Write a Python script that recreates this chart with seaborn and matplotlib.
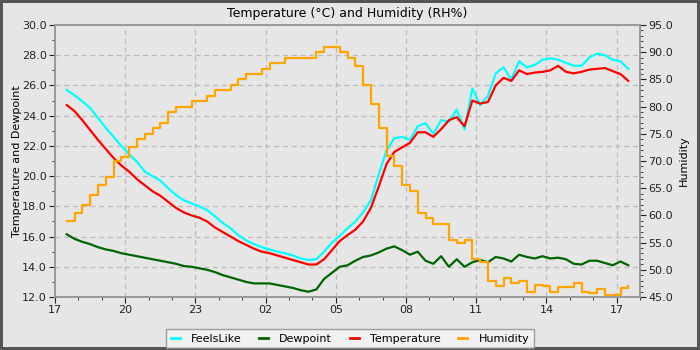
import matplotlib
matplotlib.use('Agg')
import matplotlib.pyplot as plt
import matplotlib.dates as mdates
from matplotlib.ticker import MultipleLocator, FormatStrFormatter
import seaborn as sns
import pandas as pd

# readings every 20 minutes, 17:30 -> 17:30 next day
start_time = '2023-06-10 17:30'
n_points = 73

feels_like = [25.7, 25.35, 24.95, 24.5, 23.85, 23.2, 22.6, 22.0, 21.45, 20.95,
              20.3, 20.0, 19.7, 19.2, 18.75, 18.4, 18.2, 18.0, 17.75, 17.35,
              16.9, 16.55, 16.1, 15.75, 15.5, 15.3, 15.15, 15.0, 14.9, 14.75,
              14.55, 14.45, 14.5, 15.0, 15.6, 16.05, 16.55, 17.0, 17.6, 18.4,
              20.1, 21.7, 22.5, 22.6, 22.4, 23.3, 23.5, 22.8, 23.7, 23.6,
              24.4, 23.1, 25.8, 24.7, 25.3, 26.8, 27.2, 26.4, 27.6, 27.2,
              27.35, 27.7, 27.8, 27.7, 27.5, 27.3, 27.3, 27.85, 28.1, 28.0,
              27.7, 27.6, 27.1]

dewpoint = [16.15, 15.85, 15.65, 15.5, 15.3, 15.15, 15.05, 14.9, 14.8, 14.7,
            14.6, 14.5, 14.4, 14.3, 14.2, 14.05, 14.0, 13.9, 13.8, 13.65,
            13.45, 13.3, 13.15, 13.0, 12.9, 12.9, 12.9, 12.8, 12.7, 12.6,
            12.45, 12.35, 12.5, 13.2, 13.6, 14.0, 14.1, 14.4, 14.65, 14.75,
            14.95, 15.2, 15.35, 15.1, 14.8, 15.0, 14.4, 14.2, 14.7, 14.0,
            14.5, 14.0, 14.3, 14.45, 14.3, 14.65, 14.55, 14.35, 14.8, 14.65,
            14.55, 14.7, 14.55, 14.6, 14.5, 14.2, 14.15, 14.4, 14.4, 14.25,
            14.1, 14.35, 14.1]

temperature = [24.7, 24.3, 23.7, 23.05, 22.4, 21.8, 21.2, 20.7, 20.3, 19.8,
               19.4, 19.0, 18.7, 18.3, 17.9, 17.6, 17.4, 17.25, 17.0, 16.6,
               16.3, 16.0, 15.7, 15.45, 15.2, 15.0, 14.9, 14.75, 14.6, 14.45,
               14.3, 14.15, 14.15, 14.5, 15.1, 15.7, 16.1, 16.45, 17.0, 17.9,
               19.3, 20.8, 21.6, 21.9, 22.2, 22.9, 22.9, 22.6, 23.1, 23.7,
               23.9, 23.3, 25.0, 24.8, 24.9, 26.0, 26.5, 26.3, 27.0, 26.75,
               26.85, 26.9, 27.0, 27.3, 26.9, 26.8, 26.9, 27.05, 27.1, 27.15,
               26.95, 26.75, 26.3]

humidity = [59.0, 60.5, 62.0, 63.7, 65.5, 67.0, 70.0, 70.8, 72.5, 74.0,
            75.0, 76.0, 77.0, 79.0, 80.0, 80.0, 81.0, 81.0, 82.0, 83.0,
            83.0, 84.0, 85.0, 86.0, 86.0, 87.0, 88.0, 88.0, 89.0, 89.0,
            89.0, 89.0, 90.0, 91.0, 91.0, 90.0, 89.0, 87.5, 84.0, 80.5,
            76.0, 71.0, 69.0, 65.5, 64.5, 60.5, 59.5, 58.5, 58.5, 55.5,
            55.0, 55.5, 52.0, 51.5, 48.0, 47.0, 48.5, 47.5, 48.0, 46.0,
            47.2, 47.0, 46.0, 46.8, 46.8, 47.5, 46.0, 45.7, 46.5, 45.4,
            45.4, 46.6, 47.0]

series_names = ['FeelsLike', 'Dewpoint', 'Temperature']
series_colors = ['#00ffff', '#006400', '#ff0000']
humidity_color = '#ffa500'

times = pd.date_range(start_time, periods=n_points, freq='20min')

df = pd.DataFrame({'time': times, 'FeelsLike': feels_like,
                   'Dewpoint': dewpoint, 'Temperature': temperature,
                   'Humidity': humidity})
df_left = df.melt(id_vars='time', value_vars=series_names,
                  var_name='series', value_name='value')

plt.rcParams['font.family'] = ['DejaVu Sans']
plt.rcParams['font.size'] = 8

bg = '#e6e6e6'
fig = plt.figure(figsize=(7, 3.5), dpi=100, facecolor=bg,
                 edgecolor='#555555', linewidth=3)
ax = fig.add_axes([0.0786, 0.1514, 0.8357, 0.7772])
ax.set_facecolor(bg)

sns.lineplot(data=df_left, x='time', y='value', hue='series',
             hue_order=series_names, palette=series_colors,
             linewidth=1.6, ax=ax, legend=False)

ax2 = ax.twinx()
sns.lineplot(data=df, x='time', y='Humidity', color=humidity_color,
             linewidth=1.6, drawstyle='steps-post', ax=ax2, legend=False)

ax.set_xlim(pd.Timestamp('2023-06-10 17:00'), pd.Timestamp('2023-06-11 18:00'))
ax.xaxis.set_major_locator(mdates.HourLocator(byhour=[2, 5, 8, 11, 14, 17, 20, 23]))
ax.xaxis.set_minor_locator(mdates.HourLocator())
ax.xaxis.set_major_formatter(mdates.DateFormatter('%H'))

ax.set_ylim(12, 30)
ax.yaxis.set_major_locator(MultipleLocator(2))
ax.yaxis.set_minor_locator(MultipleLocator(1))
ax.yaxis.set_major_formatter(FormatStrFormatter('%.1f'))

ax2.set_ylim(45, 95)
ax2.yaxis.set_major_locator(MultipleLocator(5))
ax2.yaxis.set_minor_locator(MultipleLocator(1))
ax2.yaxis.set_major_formatter(FormatStrFormatter('%.1f'))

ax.grid(True, which='major', color='#bbbbbb', linestyle=(0, (4, 3)), linewidth=0.9)
ax.set_axisbelow(True)

for a in (ax, ax2):
    for s in a.spines.values():
        s.set_color('#999999')
        s.set_linewidth(1.2)
    a.tick_params(which='major', length=4, color='#222222', labelsize=8,
                  labelcolor='#222222', pad=2)
    a.tick_params(which='minor', length=2, color='#222222')

ax.set_xlabel('')
ax.set_ylabel('Temperature and Dewpoint', fontsize=8, labelpad=0)
ax2.set_ylabel('Humidity', fontsize=8, labelpad=4)
ax.set_title('Temperature (°C) and Humidity (RH%)', fontsize=9, pad=6)

handles = ax.lines[:3] + ax2.lines[:1]
labels = series_names + ['Humidity']
leg = fig.legend(handles, labels, loc='lower center', bbox_to_anchor=(0.5, 0.005),
                 ncol=4, fontsize=8, frameon=True, fancybox=False,
                 handlelength=0.8, columnspacing=1.6, handletextpad=1.0,
                 borderpad=0.4, borderaxespad=0)
leg.get_frame().set_facecolor('#f4f4f4')
leg.get_frame().set_edgecolor('#888888')
leg.get_frame().set_linewidth(1.0)
for h in leg.legend_handles:
    h.set_linewidth(2.0)

fig.savefig('out.png', dpi=100)
